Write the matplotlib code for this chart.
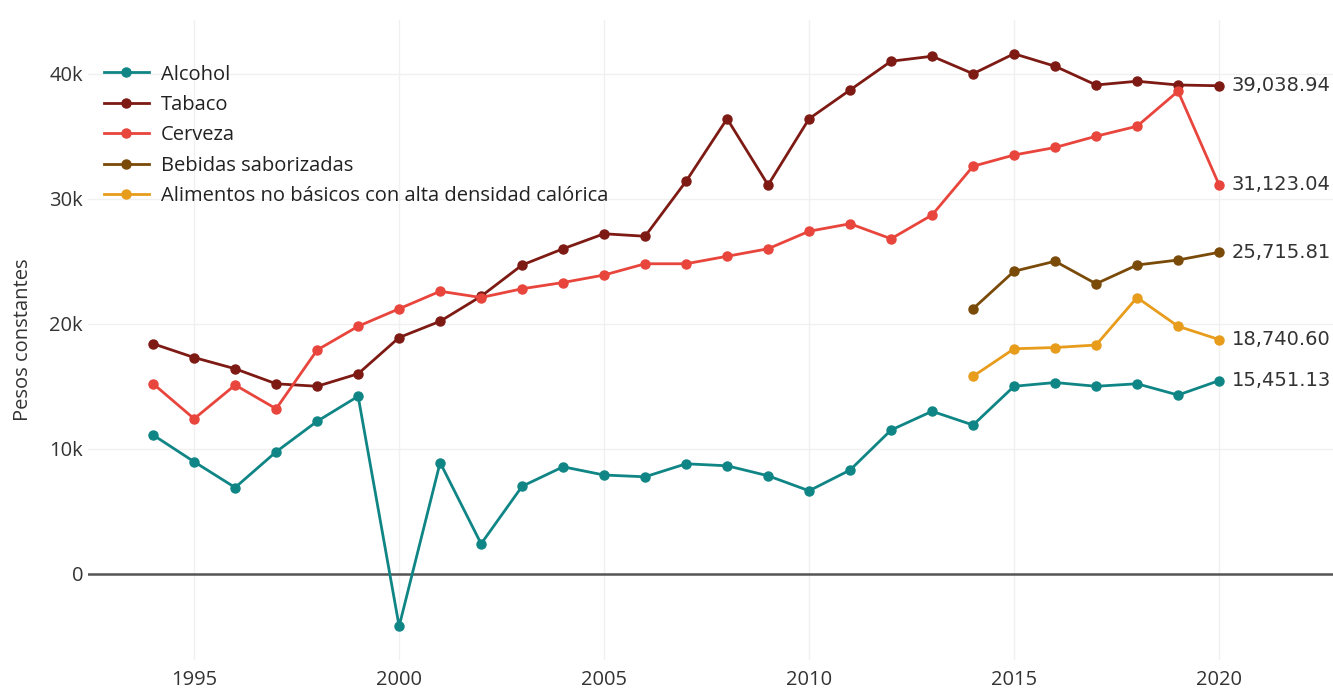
import numpy as np
import matplotlib.pyplot as plt

years = list(range(1994, 2021))
years_short = list(range(2014, 2021))

alcohol = [11100, 8960, 6900, 9760, 12200, 14200, -4200, 8900, 2400, 7000,
           8560, 7900, 7760, 8800, 8640, 7840, 6640, 8300, 11500, 13000,
           11900, 15000, 15300, 15000, 15200, 14300, 15451.13]
tabaco = [18400, 17300, 16400, 15200, 15000, 16000, 18900, 20200, 22200, 24700,
          26000, 27200, 27000, 31400, 36400, 31100, 36400, 38700, 41000, 41400,
          40000, 41600, 40600, 39100, 39400, 39100, 39038.94]
cerveza = [15200, 12400, 15100, 13200, 17900, 19800, 21200, 22600, 22100, 22800,
           23300, 23900, 24800, 24800, 25400, 26000, 27400, 28000, 26800, 28700,
           32600, 33500, 34100, 35000, 35800, 38600, 31123.04]
bebidas = [21200, 24200, 25000, 23200, 24700, 25100, 25715.81]
alimentos = [15800, 18000, 18100, 18300, 22100, 19800, 18740.60]

series = [
    ("Alcohol", years, alcohol, "#108585"),
    ("Tabaco", years, tabaco, "#7e1a14"),
    ("Cerveza", years, cerveza, "#e8453c"),
    ("Bebidas saborizadas", years_short, bebidas, "#7a4a08"),
    ("Alimentos no básicos con alta densidad calórica", years_short, alimentos, "#e89c1c"),
]

plt.rcParams['font.family'] = ['Open Sans', 'DejaVu Sans']

fig = plt.figure(figsize=(13.33, 6.89), dpi=100)
ax = fig.add_axes([0.066, 0.042, 0.934, 0.929])

for name, x, y, c in series:
    ax.plot(x, y, color=c, linewidth=2, marker='o', markersize=6.5, label=name)
    ax.annotate(f"{y[-1]:,.2f}", (x[-1], y[-1]), xytext=(9, 0),
                textcoords='offset points', va='center', ha='left',
                fontsize=14, color='#333333', family='DejaVu Sans')

ax.axhline(0, color='#555555', linewidth=1.8, zorder=1)
ax.set_xlim(1992.41, 2022.78)
ax.set_ylim(-6900, 44300)
ax.set_xticks([1995, 2000, 2005, 2010, 2015, 2020])
ax.set_yticks([0, 10000, 20000, 30000, 40000])
ax.set_yticklabels(["0", "10k", "20k", "30k", "40k"])
ax.grid(True, color='#f0f0f0', linewidth=1)
ax.set_axisbelow(True)
for s in ax.spines.values():
    s.set_visible(False)
ax.tick_params(axis='x', pad=7)
ax.tick_params(length=0, labelsize=14.5, colors='#333333')
ax.set_ylabel("Pesos constantes", fontsize=14.5, color='#333333', labelpad=12)

leg = ax.legend(loc='upper left', bbox_to_anchor=(0.006, 0.943), frameon=False,
                fontsize=14.5, handlelength=2.25, labelspacing=0.52,
                handletextpad=0.6, borderaxespad=0)
for t in leg.get_texts():
    t.set_color('#222222')

fig.savefig("out.png", dpi=100)
